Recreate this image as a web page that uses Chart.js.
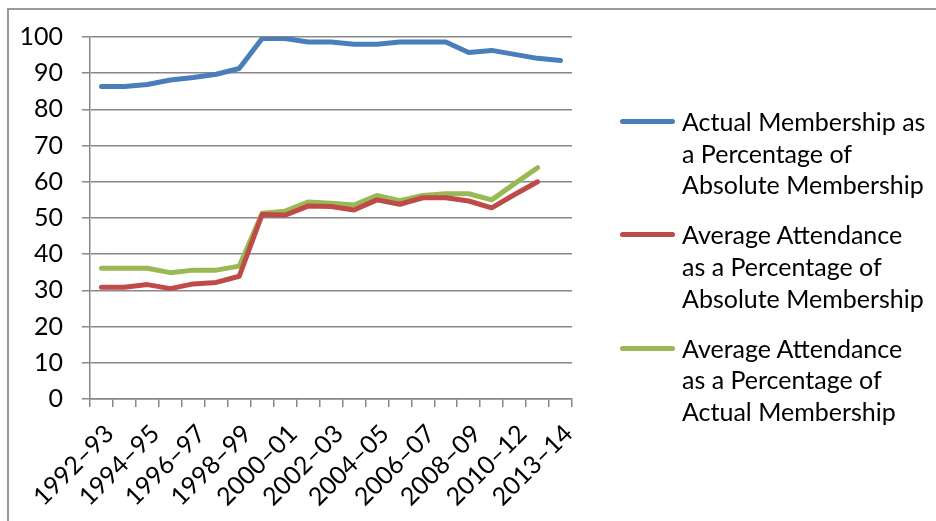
<!DOCTYPE html>
<html>
<head>
<meta charset="utf-8">
<script src="https://cdn.jsdelivr.net/npm/chart.js@4.4.0/dist/chart.umd.min.js"></script>
<style>
  html, body { margin: 0; padding: 0; background: #fff; overflow: hidden; }
  #wrap { position: relative; width: 936px; height: 521px; overflow: hidden; }
  #frame { position: absolute; left: 7px; top: 8px; width: 1000px; height: 600px;
           border-left: 2px solid #9a9a9a; border-top: 2px solid #9a9a9a; }
  #chart { position: absolute; left: 0; top: 0; }
  #legend { position: absolute; left: 620px; top: 106px; font-family: Lato, sans-serif;
            font-size: 25px; color: #000; }
  .item { position: relative; padding-left: 62px; line-height: 31.7px; margin-bottom: 18.2px; white-space: pre; }
  .swatch { position: absolute; left: 0; top: 13px; width: 55px; height: 5px; border-radius: 3px; }
</style>
</head>
<body>
<div id="wrap">
  <div id="frame"></div>
  <canvas id="chart" width="936" height="521"></canvas>
  <div id="legend"></div>
</div>
<script>
// seasons on the x axis
const seasons = [
  "1992–93", "1993–94", "1994–95", "1995–96", "1996–97", "1997–98", "1998–99",
  "1999–00", "2000–01", "2001–02", "2002–03", "2003–04", "2004–05", "2005–06",
  "2006–07", "2007–08", "2008–09", "2009–10", "2010–12", "2012–13", "2013–14"
];

// values (%)
const actualMembership = [
  86.3, 86.3, 86.9, 88.1, 88.8, 89.7, 91.3, 99.6, 99.6, 98.6, 98.6,
  98.0, 98.0, 98.6, 98.6, 98.6, 95.7, 96.3, 95.2, 94.1, 93.5
];
const attendanceOfAbsolute = [
  30.9, 30.9, 31.6, 30.5, 31.8, 32.2, 33.9, 51.0, 50.8, 53.3, 53.2,
  52.2, 55.0, 53.8, 55.6, 55.6, 54.7, 52.8, 56.5, 60.0, null
];
const attendanceOfActual = [
  36.1, 36.1, 36.1, 34.9, 35.6, 35.6, 36.7, 51.3, 51.9, 54.4, 54.1,
  53.6, 56.2, 54.8, 56.2, 56.7, 56.7, 55.0, 59.5, 63.9, null
];

const yTicks = [0, 10, 20, 30, 40, 50, 60, 70, 80, 90, 100];

const seriesNames = [
  ["Actual Membership as", "a Percentage of", "Absolute Membership"],
  ["Average Attendance", "as a Percentage of", "Absolute Membership"],
  ["Average Attendance", "as a Percentage of", "Actual Membership"]
];
const seriesColors = ["#4a7ebb", "#be4b48", "#98b954"];

const fontFace = { family: "Lato, sans-serif", size: 25 };
const axisGray = "#888888";

function makeSet(i, values) {
  return {
    label: seriesNames[i].join(" "),
    data: values,
    borderColor: seriesColors[i],
    backgroundColor: seriesColors[i],
    borderWidth: 5,
    pointRadius: 0,
    tension: 0,
    borderCapStyle: "round",
    borderJoinStyle: "round",
    spanGaps: false
  };
}

const chart = new Chart(document.getElementById("chart"), {
  type: "line",
  data: {
    labels: seasons,
    datasets: [
      makeSet(0, actualMembership),
      makeSet(1, attendanceOfAbsolute),
      makeSet(2, attendanceOfActual)
    ]
  },
  options: {
    responsive: false,
    animation: false,
    layout: { padding: { left: 8, top: 37, right: 364, bottom: 0 } },
    plugins: { legend: { display: false }, tooltip: { enabled: false } },
    scales: {
      x: {
        offset: true,
        grid: { offset: true, drawOnChartArea: false, drawTicks: true, tickLength: 8, color: axisGray, lineWidth: 1.5 },
        border: { display: true, color: axisGray, width: 1.5 },
        ticks: {
          autoSkip: false, maxRotation: 45, minRotation: 45, color: "#000", font: fontFace,
          padding: 12, labelOffset: 8,
          callback: (v, i) => (i % 2 === 0 ? seasons[i] : "")
        },
        afterFit: s => { s.height = 122; }
      },
      y: {
        min: 0, max: 100,
        afterBuildTicks: s => { s.ticks = yTicks.map(v => ({ value: v })); },
        grid: { color: axisGray, lineWidth: 1.5, tickLength: 8 },
        border: { display: true, color: axisGray, width: 1.5 },
        ticks: { color: "#000", font: fontFace, padding: 19 },
        afterFit: s => { s.width = 82; }
      }
    }
  }
});

// legend with wrapped labels, built from the datasets
const legend = document.getElementById("legend");
chart.data.datasets.forEach((ds, i) => {
  const item = document.createElement("div");
  item.className = "item";
  const sw = document.createElement("span");
  sw.className = "swatch";
  sw.style.background = ds.borderColor;
  item.appendChild(sw);
  item.appendChild(document.createTextNode(seriesNames[i].join("\n")));
  legend.appendChild(item);
});
</script>
</body>
</html>
